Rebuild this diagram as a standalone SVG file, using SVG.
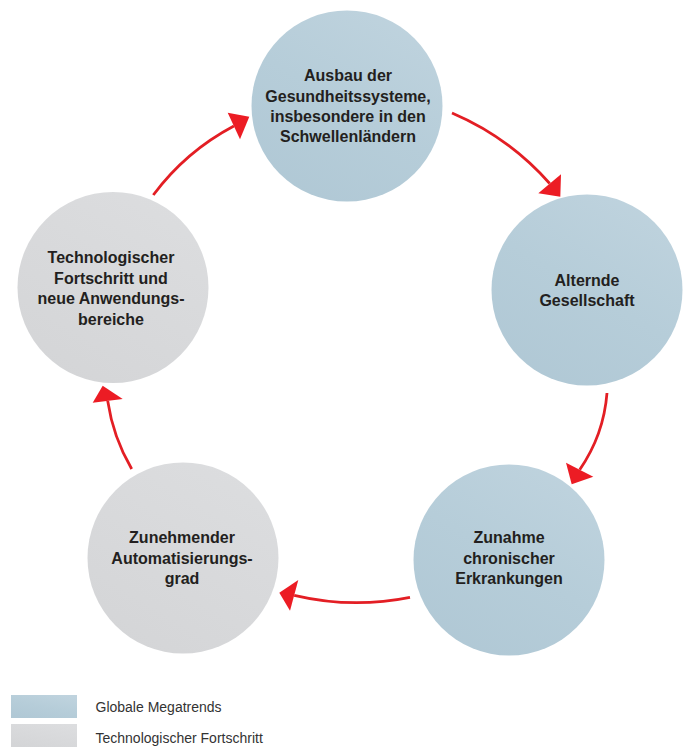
<svg xmlns="http://www.w3.org/2000/svg" width="683" height="747" viewBox="0 0 683 747">
<style>
.blue{fill:url(#gb)}
.gray{fill:url(#gg)}
.lbl{font-family:"Liberation Sans",Arial,sans-serif;font-weight:bold;font-size:16px;fill:#231f20;text-anchor:middle}
.leg{font-family:"Liberation Sans",Arial,sans-serif;font-size:14px;fill:#333333}
.arc{fill:none;stroke:#e31e24;stroke-width:2.8}
.head{fill:#ec1c24}
</style>
<defs>
<linearGradient id="gb" x1="0.8" y1="0" x2="0.2" y2="1">
<stop offset="0" stop-color="#bfd3de"/>
<stop offset="0.5" stop-color="#b6cdd9"/>
<stop offset="1" stop-color="#b0c8d5"/>
</linearGradient>
<linearGradient id="gg" x1="0.8" y1="0" x2="0.2" y2="1">
<stop offset="0" stop-color="#dcdddf"/>
<stop offset="0.5" stop-color="#d8d9db"/>
<stop offset="1" stop-color="#d4d5d7"/>
</linearGradient>
</defs>
<rect width="683" height="747" fill="#ffffff"/>
<g id="connectors">
<path class="arc" d="M452,113 Q508.8,137.2 549.7,183.5"/>
<polygon class="head" points="538.3,193.3 561,174.3 560.3,196.7"/>
<path class="arc" d="M607,393 Q603.7,435 579.7,469.7"/>
<polygon class="head" points="566,462.7 593.3,476.7 571.7,484.3"/>
<path class="arc" d="M410,597.3 Q352,609 294.2,595.3"/>
<polygon class="head" points="298.3,580 290,610.7 279.3,592.7"/>
<path class="arc" d="M131.7,469 Q113.1,437.3 107.7,400.9"/>
<polygon class="head" points="122.7,399 92.7,402.7 102.7,385.7"/>
<path class="arc" d="M153.3,195 Q185.8,151.4 233.9,126"/>
<polygon class="head" points="227.7,112.7 240,139.3 249.3,116.7"/>
</g>
<g id="node-gesundheit">
<circle class="blue" cx="347" cy="106" r="95.5"/>
<text class="lbl" x="348" y="81">Ausbau der</text>
<text class="lbl" x="348" y="101.5">Gesundheitssysteme,</text>
<text class="lbl" x="348" y="121.5">insbesondere in den</text>
<text class="lbl" x="348" y="141.5">Schwellenländern</text>
</g>
<g id="node-alternde">
<circle class="blue" cx="587" cy="290" r="95.5"/>
<text class="lbl" x="587" y="286">Alternde</text>
<text class="lbl" x="587" y="305.5">Gesellschaft</text>
</g>
<g id="node-chronisch">
<circle class="blue" cx="509" cy="560" r="95.5"/>
<text class="lbl" x="509" y="543">Zunahme</text>
<text class="lbl" x="509" y="563.5">chronischer</text>
<text class="lbl" x="509" y="584">Erkrankungen</text>
</g>
<g id="node-automatisierung">
<circle class="gray" cx="183" cy="558" r="95.5"/>
<text class="lbl" x="182" y="543">Zunehmender</text>
<text class="lbl" x="182" y="563.5">Automatisierungs-</text>
<text class="lbl" x="182" y="583.5">grad</text>
</g>
<g id="node-technologie">
<circle class="gray" cx="113" cy="287.5" r="95.5"/>
<text class="lbl" x="111" y="263">Technologischer</text>
<text class="lbl" x="111" y="283.5">Fortschritt und</text>
<text class="lbl" x="111" y="304">neue Anwendungs-</text>
<text class="lbl" x="111" y="324.5">bereiche</text>
</g>
<g id="legend">
<rect class="blue" x="11" y="695" width="66" height="23"/>
<text class="leg" x="95.5" y="712">Globale Megatrends</text>
<rect class="gray" x="11" y="724" width="66" height="23"/>
<text class="leg" x="95.5" y="743">Technologischer Fortschritt</text>
</g>
</svg>
